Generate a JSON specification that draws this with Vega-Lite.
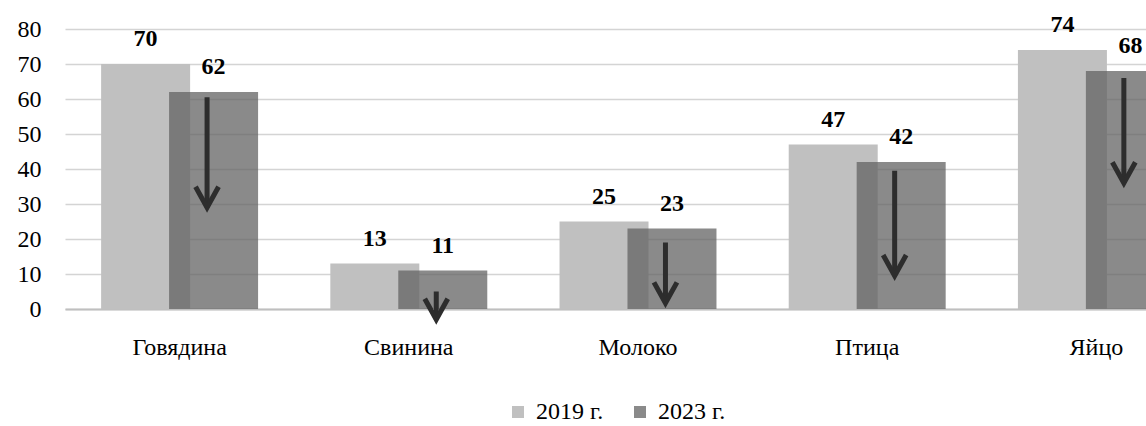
{
  "$schema": "https://vega.github.io/schema/vega-lite/v6.json",
  "width": 1081,
  "height": 280,
  "autosize": {"type": "none"},
  "padding": {"left": 65, "top": 29, "right": 0, "bottom": 117},
  "background": "white",
  "config": {
    "view": {"stroke": null},
    "font": "Liberation Serif",
    "axisY": {
      "title": null, "domain": false, "ticks": false, "grid": true, "gridColor": "#d4d4d4", "gridWidth": 1.5,
      "labelFont": "Liberation Serif", "labelFontSize": 24, "labelColor": "#000000",
      "labelPadding": 24, "labelOverlap": false
    },
    "axisX": {
      "title": null, "labelAngle": 0, "ticks": false,
      "domain": true, "domainColor": "#bfbfbf", "domainWidth": 2,
      "labelFont": "Liberation Serif", "labelFontSize": 24, "labelColor": "#000000",
      "labelPadding": 26
    }
  },
  "datasets": {
    "bars": [
      {"category": "Говядина", "year": "2019 г.", "value": 70},
      {"category": "Свинина", "year": "2019 г.", "value": 13},
      {"category": "Молоко", "year": "2019 г.", "value": 25},
      {"category": "Птица", "year": "2019 г.", "value": 47},
      {"category": "Яйцо", "year": "2019 г.", "value": 74},
      {"category": "Говядина", "year": "2023 г.", "value": 62},
      {"category": "Свинина", "year": "2023 г.", "value": 11},
      {"category": "Молоко", "year": "2023 г.", "value": 23},
      {"category": "Птица", "year": "2023 г.", "value": 42},
      {"category": "Яйцо", "year": "2023 г.", "value": 68}
    ],
    "arrows": [
      {"category": "Говядина", "start": 60.5, "end": 29},
      {"category": "Свинина", "start": 5, "end": -3},
      {"category": "Молоко", "start": 19, "end": 1.7},
      {"category": "Птица", "start": 39.5, "end": 9.5},
      {"category": "Яйцо", "start": 66, "end": 36}
    ]
  },
  "layer": [
    {
      "data": {"name": "bars"},
      "mark": {"type": "bar", "width": 89},
      "encoding": {
        "x": {
          "field": "category", "type": "nominal", "sort": null,
          "scale": {"range": [0, 1146], "paddingInner": 0.407, "paddingOuter": 0.2035}
        },
        "xOffset": {
          "field": "year", "type": "nominal",
          "scale": {"domain": ["2019 г.", "2023 г."], "paddingInner": 0, "paddingOuter": 0}
        },
        "y": {
          "field": "value", "type": "quantitative",
          "scale": {"domain": [0, 80], "nice": false},
          "axis": {"values": [0, 10, 20, 30, 40, 50, 60, 70, 80]}
        },
        "color": {
          "field": "year", "type": "nominal",
          "scale": {"domain": ["2019 г.", "2023 г."], "range": ["#c0c0c0", "#626262"]},
          "legend": {
            "title": null, "orient": "none", "legendX": 441, "legendY": 371,
            "direction": "horizontal", "symbolType": "square", "symbolSize": 144,
            "symbolStrokeWidth": 0, "labelFont": "Liberation Serif", "labelFontSize": 24,
            "labelColor": "#000000", "labelOffset": 6, "columnPadding": 24
          }
        },
        "opacity": {
          "field": "year", "type": "nominal",
          "scale": {"domain": ["2019 г.", "2023 г."], "range": [1, 0.746]},
          "legend": null
        }
      }
    },
    {
      "data": {"name": "bars"},
      "mark": {"type": "text", "fontWeight": "bold", "fontSize": 24, "font": "Liberation Serif", "baseline": "alphabetic", "dy": -18, "color": "#000000"},
      "encoding": {
        "x": {"field": "category", "type": "nominal", "sort": null},
        "xOffset": {"field": "year", "type": "nominal"},
        "y": {"field": "value", "type": "quantitative", "axis": {"values": [0, 10, 20, 30, 40, 50, 60, 70, 80]}},
        "text": {"field": "value", "type": "quantitative"}
      }
    },
    {
      "data": {"name": "arrows"},
      "mark": {"type": "rule", "strokeWidth": 5, "color": "#2d2d2d"},
      "encoding": {
        "x": {"field": "category", "type": "nominal", "sort": null, "bandPosition": 0.702},
        "y": {"field": "start", "type": "quantitative", "axis": {"values": [0, 10, 20, 30, 40, 50, 60, 70, 80]}},
        "y2": {"field": "end"}
      }
    },
    {
      "data": {"name": "arrows"},
      "mark": {"type": "point", "shape": "M-1,-1.8L0,0L1,-1.8", "filled": false, "size": 529, "strokeWidth": 5, "color": "#2d2d2d", "opacity": 1, "strokeJoin": "miter"},
      "encoding": {
        "x": {"field": "category", "type": "nominal", "sort": null, "bandPosition": 0.702},
        "y": {"field": "end", "type": "quantitative", "axis": {"values": [0, 10, 20, 30, 40, 50, 60, 70, 80]}}
      }
    }
  ]
}
